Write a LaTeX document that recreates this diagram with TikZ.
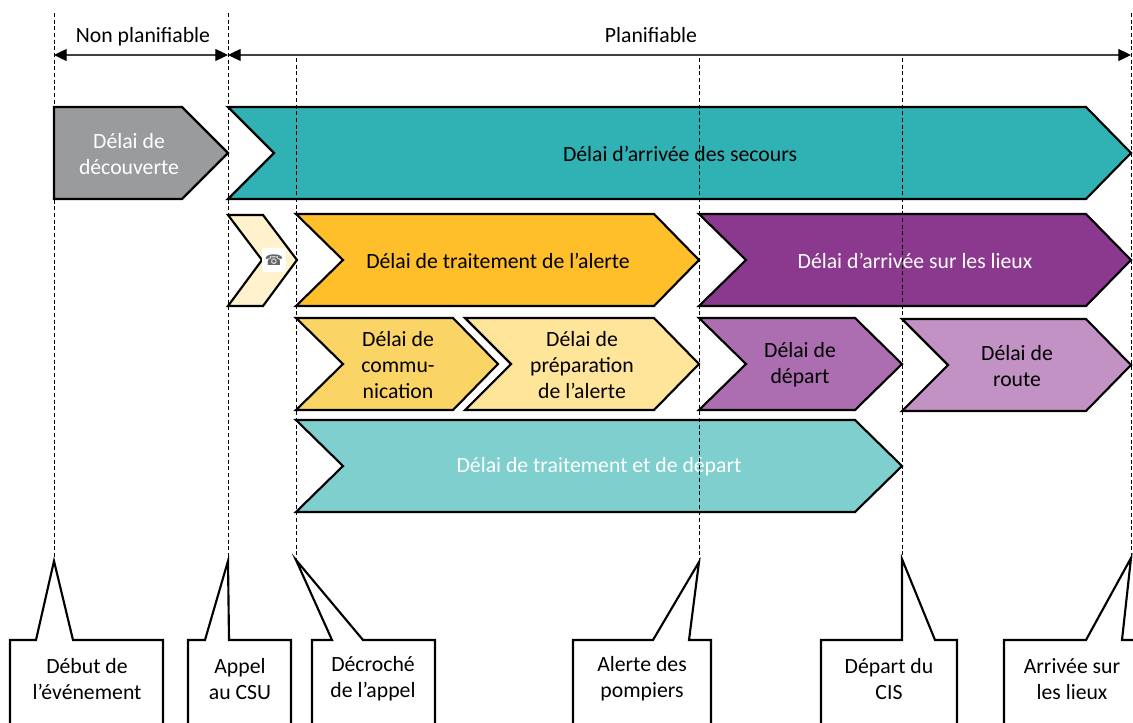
\documentclass[tikz,border=0pt]{standalone}
\usepackage{fontspec}
\setmainfont{Carlito}
\newfontfamily\symbfont{DejaVu Sans}
\usepackage{xcolor}
\usepackage{tikz}
\usetikzlibrary{arrows.meta}

\definecolor{greydisc}{RGB}{153,155,156}
\definecolor{tealsec}{RGB}{48,178,180}
\definecolor{orangetr}{RGB}{254,191,43}
\definecolor{orangecom}{RGB}{251,212,102}
\definecolor{yellowprep}{RGB}{255,229,153}
\definecolor{creamcall}{RGB}{255,242,204}
\definecolor{purplearr}{RGB}{139,56,143}
\definecolor{purpledep}{RGB}{172,110,176}
\definecolor{purpleroute}{RGB}{195,146,196}
\definecolor{tealtrdep}{RGB}{128,207,207}

\begin{document}
\begin{tikzpicture}[x=0.75pt,y=-0.75pt,
  stage/.style={draw=black,line width=1.6pt},
  lbl/.style={align=center,inner sep=0pt,font=\fontsize{16.3}{19.5}\selectfont},
  guide/.style={draw=black,line width=0.7pt,dash pattern=on 3pt off 2pt},
  span/.style={{Triangle[length=9.5pt,width=9pt,black]}-{Triangle[length=9.5pt,width=9pt,black]},line width=0.9pt,draw=black!75},
  callout/.style={draw=black,line width=1.6pt}]
  \useasboundingbox (0,0) rectangle (1133,722);

  % moments of the timeline
  \coordinate (t1) at (54,13);
  \coordinate (t2) at (228,13);
  \coordinate (t3) at (296,58);
  \coordinate (t4) at (699,58);
  \coordinate (t5) at (902,58);
  \coordinate (t6) at (1131,13);
  \coordinate (p1) at (54,561);
  \coordinate (p2) at (228,561);
  \coordinate (p3) at (296,560);
  \coordinate (p4) at (699,562);
  \coordinate (p5) at (902,559);
  \coordinate (p6) at (1131,558);

  % top spans
  \coordinate (s1) at (54,55);
  \coordinate (s2) at (228,55);
  \coordinate (s3) at (1131,55);
  \draw[span] (s1) -- (s2);
  \draw[span] (s2) -- (s3);
  \node[lbl,anchor=base] (nonplan) at (143,42) {Non planifiable};
  \node[lbl,anchor=base] (plan) at (651,42) {Planifiable};

  % row 1
  \draw[stage,fill=greydisc] (54,107) -- (182,107) -- (228,153) -- (182,199) -- (54,199) -- cycle;
  \node[lbl,text=white] (decouverte) at (129,154) {Délai de\\découverte};
  \draw[stage,fill=tealsec] (228,107) -- (1086,107) -- (1131,153) -- (1086,199) -- (228,199) -- (274,153) -- cycle;
  \node[lbl] (secours) at (680,154) {Délai d’arrivée des secours};

  % row 2
  \draw[stage,fill=creamcall] (228,215) -- (263,215) -- (297,260) -- (263,306) -- (228,306) -- (262,260) -- cycle;
  \node[fill=white,inner sep=0pt,minimum size=18pt,text=black!60,font=\symbfont\fontsize{11}{11}\selectfont] (phone) at (274,260) {☎};
  \draw[stage,fill=orangetr] (296,214) -- (654,214) -- (699,260) -- (654,306) -- (296,306) -- (343,260) -- cycle;
  \node[lbl] (traitement) at (498,261) {Délai de traitement de l’alerte};
  \draw[stage,fill=purplearr] (699,214) -- (1086,214) -- (1131,260) -- (1086,306) -- (699,306) -- (746,260) -- cycle;
  \node[lbl,text=white] (arrivee) at (915,261) {Délai d’arrivée sur les lieux};

  % row 3
  \draw[stage,fill=orangecom] (296,318) -- (453,318) -- (498,364) -- (453,410) -- (296,410) -- (343,364) -- cycle;
  \node[lbl] (communication) at (398,365) {Délai de\\commu-\\nication};
  \draw[stage,fill=yellowprep] (465,318) -- (654,318) -- (699,364) -- (654,410) -- (465,410) -- (511,364) -- cycle;
  \node[lbl] (preparation) at (582,365) {Délai de\\préparation\\de l’alerte};
  \draw[stage,fill=purpledep] (699,318) -- (855,318) -- (902,364) -- (855,410) -- (699,410) -- (746,364) -- cycle;
  \node[lbl] (depart) at (800,365) {Délai de\\départ};
  \draw[stage,fill=purpleroute] (902,319) -- (1086,319) -- (1131,365) -- (1086,411) -- (902,411) -- (948,365) -- cycle;
  \node[lbl] (route) at (1017,366) {Délai de\\route};

  % row 4
  \draw[stage,fill=tealtrdep] (296,420) -- (855,420) -- (902,466) -- (855,512) -- (296,512) -- (343,466) -- cycle;
  \node[lbl,text=white] (trdepart) at (599,467) {Délai de traitement et de départ};

  % guide lines
  \draw[guide] (t1) -- (p1);
  \draw[guide] (t2) -- (p2);
  \draw[guide] (t3) -- (p3);
  \draw[guide] (t4) -- (p4);
  \draw[guide] (t5) -- (p5);
  \draw[guide] (t6) -- (p6);

  % callouts
  \draw[callout] (10,724) -- (10,640) -- (36,640) -- (p1) -- (73,640) -- (163,640) -- (163,724);
  \node[lbl] (debut) at (87,679) {Début de\\l’événement};
  \draw[callout] (188,724) -- (188,640) -- (205,640) -- (p2) -- (229,640) -- (291,640) -- (291,724);
  \node[lbl] (appel) at (240,679) {Appel\\au CSU};
  \draw[callout] (312,724) -- (312,640) -- (332,640) -- (p3) -- (363,640) -- (435,640) -- (435,724);
  \node[lbl] (decroche) at (373,679) {Décroché\\de l’appel};
  \draw[callout] (573,724) -- (573,640) -- (653,640) -- (p4) -- (689,640) -- (711,640) -- (711,724);
  \node[lbl] (alerte) at (642,679) {Alerte des\\pompiers};
  \draw[callout] (821,724) -- (821,640) -- (902,640) -- (p5) -- (935,640) -- (957,640) -- (957,724);
  \node[lbl] (cis) at (889,679) {Départ du\\CIS};
  \draw[callout] (1004,724) -- (1004,640) -- (1086,640) -- (p6) -- (1122,640) -- (1136,640);
  \node[lbl] (lieux) at (1072,679) {Arrivée sur\\les lieux};
\end{tikzpicture}
\end{document}
